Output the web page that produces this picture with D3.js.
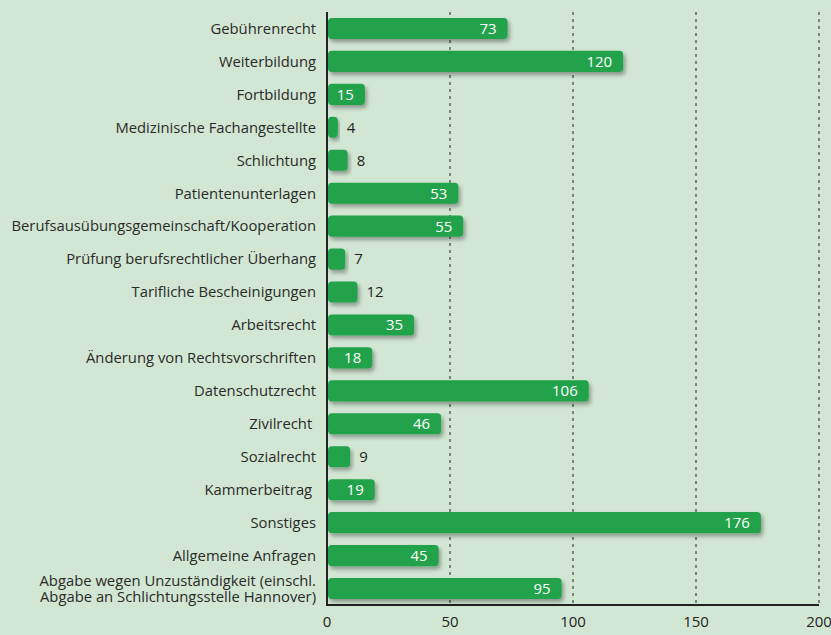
<!DOCTYPE html>
<html>
<head>
<meta charset="utf-8">
<script src="https://cdn.jsdelivr.net/npm/d3@7"></script>
<style>
  body { margin: 0; background: #d2e7d3; }
  svg { display: block; font-family: "Open Sans", "Noto Sans", sans-serif; }
</style>
</head>
<body>
<div id="chart"></div>
<script>
var categories = [
  'Gebührenrecht',
  'Weiterbildung',
  'Fortbildung',
  'Medizinische Fachangestellte',
  'Schlichtung',
  'Patientenunterlagen',
  'Berufsausübungsgemeinschaft/Kooperation',
  'Prüfung berufsrechtlicher Überhang',
  'Tarifliche Bescheinigungen',
  'Arbeitsrecht',
  'Änderung von Rechtsvorschriften',
  'Datenschutzrecht',
  'Zivilrecht ',
  'Sozialrecht',
  'Kammerbeitrag ',
  'Sonstiges',
  'Allgemeine Anfragen',
  'Abgabe wegen Unzuständigkeit (einschl.|Abgabe an Schlichtungsstelle Hannover)'
];
var values = [73, 120, 15, 4, 8, 53, 55, 7, 12, 35, 18, 106, 46, 9, 19, 176, 45, 95];
var ticks = [0, 50, 100, 150, 200];

var width = 831, height = 635;
var margin = {left: 327, right: 12, top: 12, bottom: 30};

var svg = d3.select('#chart').append('svg')
  .attr('width', width)
  .attr('height', height);

var defs = svg.append('defs');
var shadow = defs.append('filter').attr('id', 'shadow')
  .attr('x', '-10%').attr('y', '-30%').attr('width', '130%').attr('height', '180%');
shadow.append('feDropShadow')
  .attr('dx', 2).attr('dy', 3).attr('stdDeviation', 2.2)
  .attr('flood-color', '#000').attr('flood-opacity', 0.35);

var x = d3.scaleLinear().domain([0, 200]).range([margin.left, width - margin.right]);
var y = d3.scaleBand().domain(d3.range(categories.length))
  .range([margin.top, height - margin.bottom]).paddingInner(0.36).paddingOuter(0.18);

// dashed grid
svg.append('g').selectAll('line')
  .data(ticks.slice(1))
  .enter().append('line')
  .attr('x1', function(d) { return x(d); })
  .attr('x2', function(d) { return x(d); })
  .attr('y1', margin.top)
  .attr('y2', height - margin.bottom)
  .attr('stroke', '#222')
  .attr('stroke-width', 1)
  .attr('stroke-dasharray', '3,4');

// bars
svg.append('g').selectAll('rect')
  .data(values)
  .enter().append('rect')
  .attr('x', x(0) + 1)
  .attr('y', function(d, i) { return y(i); })
  .attr('width', function(d) { return x(d) - x(0); })
  .attr('height', y.bandwidth())
  .attr('rx', 4)
  .attr('fill', '#21a34b')
  .attr('filter', 'url(#shadow)');

// value labels
svg.append('g').selectAll('text')
  .data(values)
  .enter().append('text')
  .attr('x', function(d) { return d >= 15 ? x(d) - 10 : x(d) + 10; })
  .attr('y', function(d, i) { return y(i) + y.bandwidth() / 2; })
  .attr('dy', '0.36em')
  .attr('text-anchor', function(d) { return d >= 15 ? 'end' : 'start'; })
  .attr('fill', function(d) { return d >= 15 ? '#fff' : '#222'; })
  .attr('font-size', 15)
  .text(function(d) { return d; });

// category labels
var labels = svg.append('g').selectAll('text')
  .data(categories)
  .enter().append('text')
  .attr('x', margin.left - 11)
  .attr('y', function(d, i) { return y(i) + y.bandwidth() / 2; })
  .attr('text-anchor', 'end')
  .attr('fill', '#2a2a2a')
  .attr('font-size', 14.8)
  .style('white-space', 'pre');

labels.each(function(d) {
  var parts = d.split('|');
  var t = d3.select(this);
  parts.forEach(function(p, k) {
    t.append('tspan')
      .attr('x', margin.left - 11)
      .attr('dy', k === 0 ? (0.36 - (parts.length - 1) * 0.55) + 'em' : '1.1em')
      .text(p);
  });
});

// axes
svg.append('line')
  .attr('x1', x(0)).attr('x2', x(0))
  .attr('y1', margin.top).attr('y2', height - margin.bottom)
  .attr('stroke', '#222').attr('stroke-width', 2);
svg.append('line')
  .attr('x1', x(0) - 1).attr('x2', x(200))
  .attr('y1', height - margin.bottom).attr('y2', height - margin.bottom)
  .attr('stroke', '#222').attr('stroke-width', 2);

svg.append('g').selectAll('text')
  .data(ticks)
  .enter().append('text')
  .attr('x', function(d) { return x(d); })
  .attr('y', height - margin.bottom + 22)
  .attr('text-anchor', 'middle')
  .attr('fill', '#222')
  .attr('font-size', 15)
  .text(function(d) { return d; });
</script>
</body>
</html>
